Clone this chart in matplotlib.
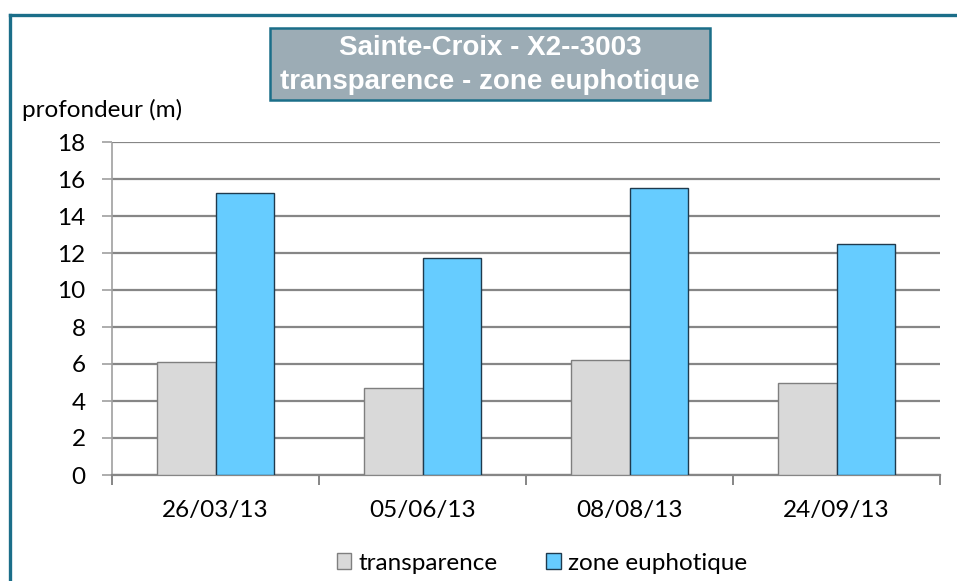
import matplotlib
matplotlib.use("Agg")
import matplotlib.pyplot as plt
from matplotlib.patches import Rectangle, Patch
from matplotlib.lines import Line2D
import numpy as np

# data
dates = ['26/03/13', '05/06/13', '08/08/13', '24/09/13']
transparence = [6.1, 4.7, 6.2, 5.0]
zone_euphotique = [15.25, 11.75, 15.5, 12.5]

W, H = 957, 581
fig = plt.figure(figsize=(W / 100, H / 100), dpi=100)
fig.patch.set_facecolor('white')

def fx(px):
    return px / W

def fy(py):
    return 1 - py / H

FS = 17.5

# outer frame (only top and left visible)
teal = '#1B6E89'
fig.add_artist(Line2D([fx(9.5), fx(9.5)], [fy(14.5), 0], color=teal, lw=2.4, transform=fig.transFigure))
fig.add_artist(Line2D([fx(9.5), 1], [fy(14.5), fy(14.5)], color=teal, lw=2.4, transform=fig.transFigure))

# plot area
ax = fig.add_axes([fx(112), fy(475), fx(940) - fx(112), fy(142) - fy(475)])
x = np.arange(len(dates))
bw = 0.285
ax.bar(x - bw / 2, transparence, bw, color='#D9D9D9', edgecolor='#7F7F7F', linewidth=1.0, zorder=3,
       label='transparence')
ax.bar(x + bw / 2, zone_euphotique, bw, color='#66CCFF', edgecolor='#1F3A4D', linewidth=1.0, zorder=3,
       label='zone euphotique')

ax.set_xlim(-0.5, len(dates) - 0.5)
ax.set_ylim(0, 18)
ax.set_yticks(np.arange(0, 19, 2))
ax.yaxis.grid(True, color='#868686', linewidth=1.6, zorder=0)
ax.set_axisbelow(True)

for s in ['top', 'right']:
    ax.spines[s].set_visible(False)
ax.spines['left'].set_color('#A0A0A0')
ax.spines['left'].set_linestyle((0, (1, 1)))
ax.spines['left'].set_linewidth(1.2)
ax.spines['bottom'].set_color('#868686')
ax.spines['bottom'].set_linewidth(1.6)

# x ticks at category boundaries, labels centred
ax.set_xticks(np.arange(-0.5, len(dates), 1.0))
ax.set_xticklabels([])
ax.tick_params(axis='x', which='major', direction='out', length=7, width=1.4, color='#868686')
ax.set_xticks(x, minor=True)
ax.set_xticklabels(dates, minor=True, fontsize=FS, family='Lato', color='black')
ax.tick_params(axis='x', which='minor', length=0, pad=18)

ax.tick_params(axis='y', direction='out', length=7, width=1.2, color='#A0A0A0', pad=12)
for t in ax.yaxis.get_ticklines():
    t.set_linestyle((0, (1, 1)))
for lab in ax.get_yticklabels():
    lab.set_fontsize(FS)
    lab.set_family('Lato')

fig.text(fx(22), fy(110), 'profondeur (m)', fontsize=FS, family='Lato', ha='left', va='center')

# title box
fig.add_artist(Rectangle((fx(270), fy(100)), fx(710) - fx(270), fy(28) - fy(100),
                         transform=fig.transFigure, facecolor='#9CACB5', edgecolor=teal, linewidth=1.8))
fig.text(fx(490), fy(65), 'Sainte-Croix - X2--3003\ntransparence - zone euphotique',
         ha='center', va='center', fontsize=20, fontweight='bold', color='white',
         family='Liberation Sans', linespacing=1.4)

handles = [Patch(facecolor='#D9D9D9', edgecolor='#7F7F7F', label='transparence'),
           Patch(facecolor='#66CCFF', edgecolor='#1F3A4D', label='zone euphotique')]
fig.legend(handles=handles, loc='center', bbox_to_anchor=(fx(542), fy(563)), ncol=2, frameon=False,
           prop={'family': 'Lato', 'size': FS}, handlelength=0.6, handleheight=0.6,
           handletextpad=0.3, columnspacing=2.0)

fig.savefig('out.png', dpi=100)
